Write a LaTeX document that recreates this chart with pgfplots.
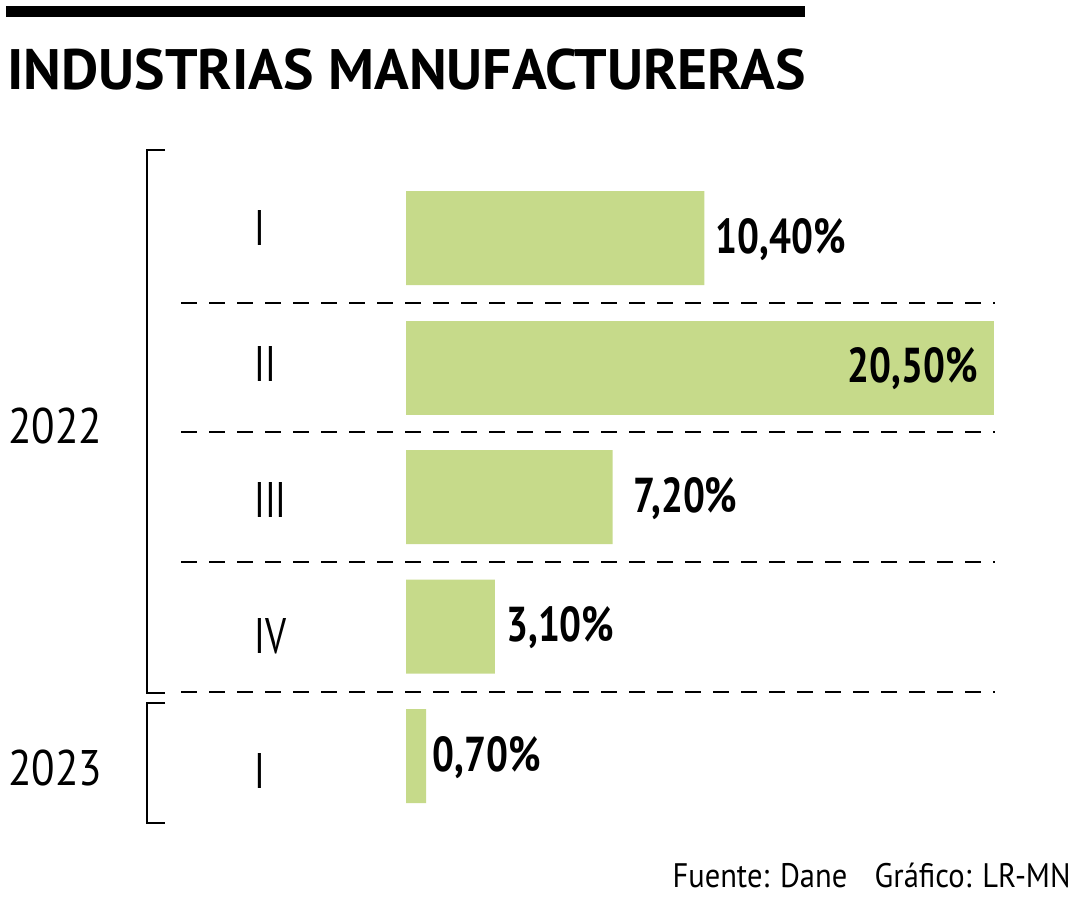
\documentclass[border=0pt]{standalone}
\usepackage{graphicx}
\usepackage{pgfplots}
\pgfplotsset{compat=1.18}
\usepackage{fontspec}
\setmainfont{PT Sans}
\newfontfamily\condfont{PT Sans}[FakeStretch=0.79]
\newfontfamily\romcond{PT Sans}[FakeStretch=0.74]
\definecolor{barc}{RGB}{198,218,138}
\newcommand\valfont{\condfont\bfseries\fontsize{24.5}{24.5}\selectfont}
\newcommand\romfont{\romcond\fontsize{25}{25}\selectfont}
\begin{document}
\begin{tikzpicture}
\useasboundingbox (0pt,0pt) rectangle (540pt,-450pt);
\begin{scope}[x=0.5pt,y=-0.5pt]
  % top rule and title
  \fill[black] (6,6) rectangle (805,16.5);
  \node[anchor=base west, inner sep=0pt] at (7,89)
    {\resizebox{399pt}{\height}{\fontsize{28.5}{28.5}\selectfont\bfseries INDUSTRIAS MANUFACTURERAS}};
  % separators
  \foreach \yy in {303,432,562,692}
    \draw[line width=1pt, dash pattern=on 8pt off 6pt] (181,\yy) -- (995,\yy);
  % brackets
  \draw[line width=1pt] (165,149.5) -- (147,149.5) -- (147,693) -- (165,693);
  \draw[line width=1pt] (165,703) -- (147,703) -- (147,823) -- (165,823);
  % year labels
  \node[anchor=base west, inner sep=0pt] at (8,443)
    {\resizebox{47pt}{\height}{\fontsize{25}{25}\selectfont 2022}};
  \node[anchor=base west, inner sep=0pt] at (8,785)
    {\resizebox{47pt}{\height}{\fontsize{25}{25}\selectfont 2023}};
  % source
  \node[anchor=base east, inner sep=0pt] at (1071,887)
    {\resizebox{199pt}{\height}{\fontsize{17}{17}\selectfont Fuente: Dane\hspace{0.9em}Gráfico: LR-MN}};
\end{scope}
\begin{axis}[
  at={(203pt,-86.625pt)}, anchor=north west,
  scale only axis, width=294pt, height=323.75pt,
  xmin=0, xmax=20.5, ymin=-0.5, ymax=4.5, y dir=reverse,
  xbar, bar width=47pt, bar shift=0pt,
  hide x axis,
  axis y line*=left, y axis line style={draw=none},
  ytick={0,1,2,3,4},
  yticklabels={\raisebox{-3.5pt}{I},\raisebox{-6.75pt}{II},\raisebox{-10pt}{III},\raisebox{-13.25pt}{IV},\raisebox{-16pt}{I}},
  major tick length=0pt,
  yticklabel style={anchor=base west, inner sep=0pt, xshift=-76pt, font=\romfont},
  point meta=explicit symbolic,
  nodes near coords,
  every node near coord/.append style={anchor=base west, inner sep=0pt, yshift=-7.5pt, font=\valfont, text=black},
  clip=false,
]
\addplot[fill=barc, draw=none, every node near coord/.append style={xshift=5.5pt}]
  coordinates {(10.4,0) [10,40\%] (7.2,2) [\hspace{5pt}7,20\%] (3.1,3) [3,10\%] (0.7,4) [\hspace{-2.5pt}0,70\%]};
\addplot[fill=barc, draw=none, every node near coord/.append style={anchor=base east, xshift=-8pt}]
  coordinates {(20.5,1) [20,50\%]};
\end{axis}
\end{tikzpicture}
\end{document}
